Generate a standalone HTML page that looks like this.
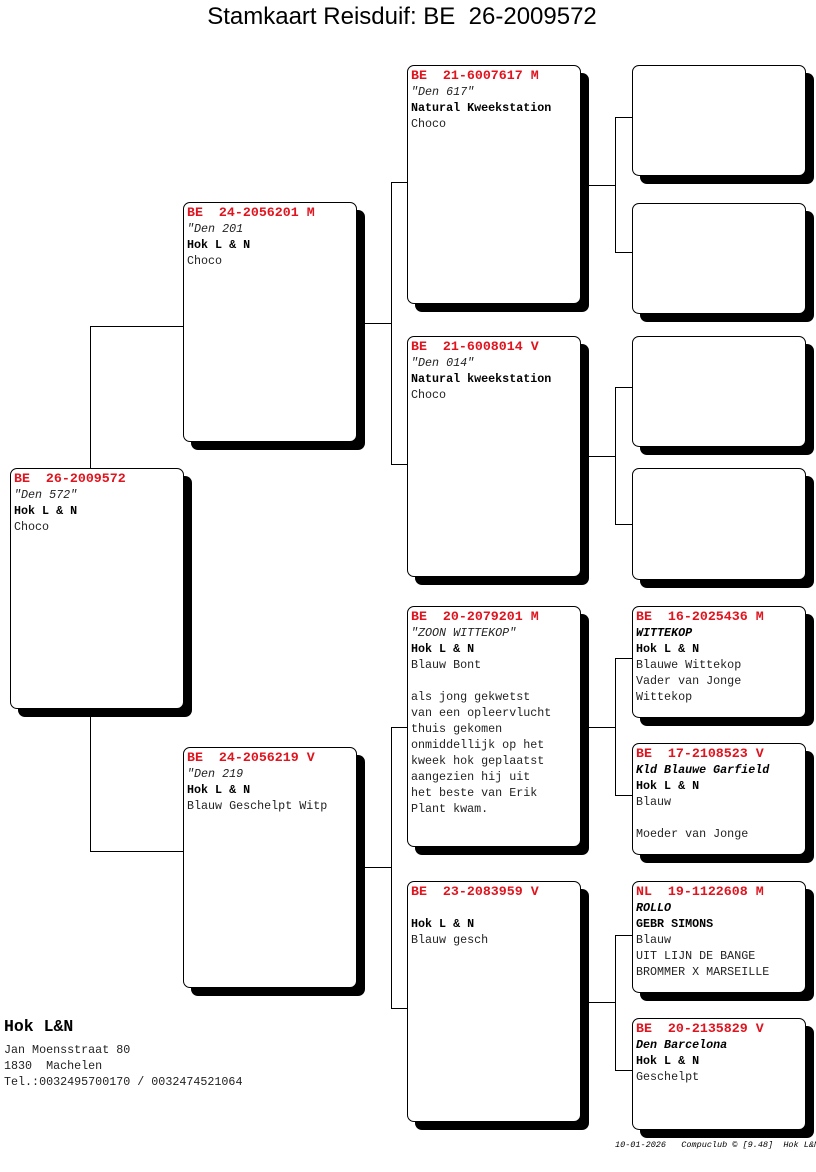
<!DOCTYPE html>
<html><head><meta charset="utf-8"><style>
body{margin:0;width:816px;height:1172px;background:#fff;position:relative;overflow:hidden;font-family:"Liberation Mono",monospace;}
.t{position:absolute;left:0;width:816px;top:3px;text-align:center;font-family:"Liberation Sans",sans-serif;font-size:24px;padding-right:12px;box-sizing:border-box;}
.b{position:absolute;background:#fff;border:1px solid #000;border-radius:7px;box-sizing:border-box;padding:2px 0 0 3px;font-size:11.7px;line-height:16px;white-space:pre;color:#222;box-shadow:8px 8px 0 #000;overflow:hidden;}
.r{color:#e0141e;font-weight:bold;font-size:13.3px;}
.i{font-style:italic;}
.k{font-weight:bold;color:#000;}
.h{position:absolute;background:#000;height:1px;}
.v{position:absolute;background:#000;width:1px;}
.f{position:absolute;font-size:11.7px;line-height:16px;white-space:pre;color:#222;}
</style></head><body>
<div class="t">Stamkaart Reisduif: BE&nbsp; 26-2009572</div>

<div class="v" style="left:90px;top:326px;height:526px"></div>
<div class="h" style="left:90px;top:326px;width:94px"></div>
<div class="h" style="left:90px;top:851px;width:94px"></div>

<div class="h" style="left:356px;top:323px;width:35px"></div>
<div class="v" style="left:391px;top:182px;height:283px"></div>
<div class="h" style="left:391px;top:182px;width:17px"></div>
<div class="h" style="left:391px;top:464px;width:17px"></div>

<div class="h" style="left:356px;top:867px;width:35px"></div>
<div class="v" style="left:391px;top:727px;height:282px"></div>
<div class="h" style="left:391px;top:727px;width:17px"></div>
<div class="h" style="left:391px;top:1008px;width:17px"></div>

<div class="h" style="left:580px;top:185px;width:35px"></div>
<div class="v" style="left:615px;top:117px;height:136px"></div>
<div class="h" style="left:615px;top:117px;width:18px"></div>
<div class="h" style="left:615px;top:252px;width:18px"></div>

<div class="h" style="left:580px;top:456px;width:35px"></div>
<div class="v" style="left:615px;top:387px;height:138px"></div>
<div class="h" style="left:615px;top:387px;width:18px"></div>
<div class="h" style="left:615px;top:524px;width:18px"></div>

<div class="h" style="left:580px;top:727px;width:35px"></div>
<div class="v" style="left:615px;top:658px;height:137px"></div>
<div class="h" style="left:615px;top:658px;width:18px"></div>
<div class="h" style="left:615px;top:795px;width:18px"></div>

<div class="h" style="left:580px;top:1002px;width:35px"></div>
<div class="v" style="left:615px;top:935px;height:136px"></div>
<div class="h" style="left:615px;top:935px;width:18px"></div>
<div class="h" style="left:615px;top:1070px;width:18px"></div>

<div class="b" style="left:10px;top:468px;width:174px;height:241px"><span class="r">BE  26-2009572</span>
<span class="i">"Den 572"</span>
<span class="k">Hok L &amp; N</span>
Choco</div>

<div class="b" style="left:183px;top:202px;width:174px;height:240px"><span class="r">BE  24-2056201 M</span>
<span class="i">"Den 201</span>
<span class="k">Hok L &amp; N</span>
Choco</div>
<div class="b" style="left:183px;top:747px;width:174px;height:241px"><span class="r">BE  24-2056219 V</span>
<span class="i">"Den 219</span>
<span class="k">Hok L &amp; N</span>
Blauw Geschelpt Witp</div>

<div class="b" style="left:407px;top:65px;width:174px;height:239px"><span class="r">BE  21-6007617 M</span>
<span class="i">"Den 617"</span>
<span class="k">Natural Kweekstation</span>
Choco</div>
<div class="b" style="left:407px;top:336px;width:174px;height:241px"><span class="r">BE  21-6008014 V</span>
<span class="i">"Den 014"</span>
<span class="k">Natural kweekstation</span>
Choco</div>
<div class="b" style="left:407px;top:606px;width:174px;height:241px"><span class="r">BE  20-2079201 M</span>
<span class="i">"ZOON WITTEKOP"</span>
<span class="k">Hok L &amp; N</span>
Blauw Bont

als jong gekwetst
van een opleervlucht
thuis gekomen
onmiddellijk op het
kweek hok geplaatst
aangezien hij uit
het beste van Erik
Plant kwam.</div>
<div class="b" style="left:407px;top:881px;width:174px;height:241px"><span class="r">BE  23-2083959 V</span>

<span class="k">Hok L &amp; N</span>
Blauw gesch</div>

<div class="b" style="left:632px;top:65px;width:174px;height:111px"></div>
<div class="b" style="left:632px;top:203px;width:174px;height:111px"></div>
<div class="b" style="left:632px;top:336px;width:174px;height:111px"></div>
<div class="b" style="left:632px;top:468px;width:174px;height:112px"></div>
<div class="b" style="left:632px;top:606px;width:174px;height:112px"><span class="r">BE  16-2025436 M</span>
<span class="i k">WITTEKOP</span>
<span class="k">Hok L &amp; N</span>
Blauwe Wittekop
Vader van Jonge
Wittekop</div>
<div class="b" style="left:632px;top:743px;width:174px;height:112px"><span class="r">BE  17-2108523 V</span>
<span class="i k">Kld Blauwe Garfield</span>
<span class="k">Hok L &amp; N</span>
Blauw

Moeder van Jonge</div>
<div class="b" style="left:632px;top:881px;width:174px;height:112px"><span class="r">NL  19-1122608 M</span>
<span class="i k">ROLLO</span>
<span class="k">GEBR SIMONS</span>
Blauw
UIT LIJN DE BANGE
BROMMER X MARSEILLE</div>
<div class="b" style="left:632px;top:1018px;width:174px;height:112px"><span class="r">BE  20-2135829 V</span>
<span class="i k">Den Barcelona</span>
<span class="k">Hok L &amp; N</span>
Geschelpt</div>

<div class="f" style="left:4px;top:1019px;font-size:16.5px;font-weight:bold;color:#000">Hok L&amp;N</div>
<div class="f" style="left:4px;top:1042px">Jan Moensstraat 80
1830  Machelen
Tel.:0032495700170 / 0032474521064</div>
<div class="f i" style="left:615px;top:1137px;font-size:8.5px;color:#000">10-01-2026   Compuclub © [9.48]  Hok L&amp;N</div>
</body></html>
